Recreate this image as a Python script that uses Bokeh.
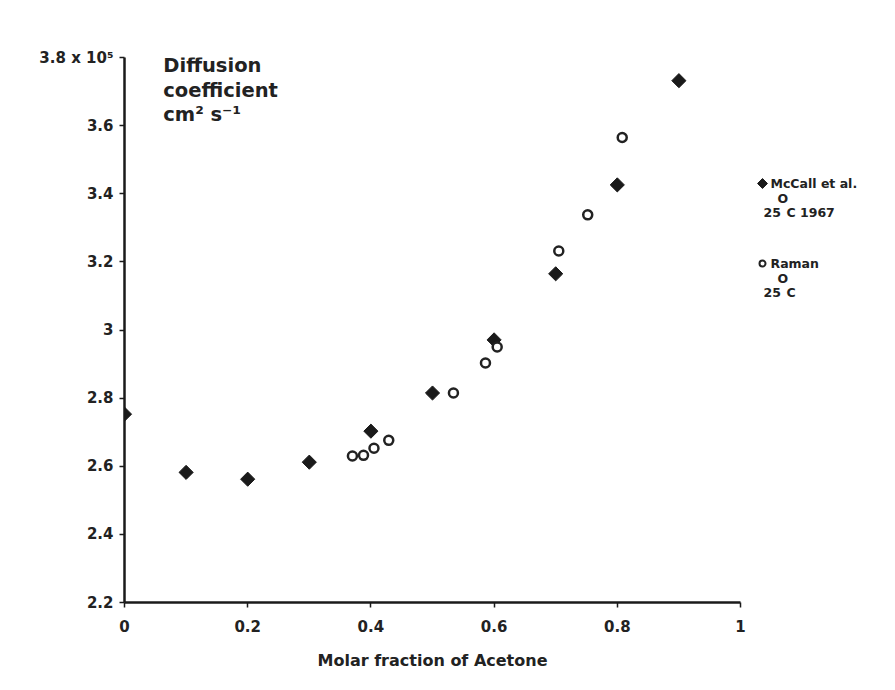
import math
from bokeh.plotting import figure
from bokeh.models import Range1d, Label, FixedTicker
from bokeh.layouts import row
from bokeh.core.properties import value
from bokeh.embed import file_html
from bokeh.resources import INLINE

# McCall et al. 25 °C 1967 (filled diamonds)
mccall_x = [0.0, 0.1, 0.2, 0.3, 0.4, 0.5, 0.6, 0.7, 0.8, 0.9]
mccall_y = [2.753, 2.582, 2.562, 2.612, 2.703, 2.815, 2.971, 3.165, 3.426, 3.732]

# Raman 25 °C (open circles)
raman_x = [0.370, 0.388, 0.405, 0.429, 0.534, 0.586, 0.605, 0.705, 0.752, 0.808]
raman_y = [2.630, 2.632, 2.653, 2.676, 2.815, 2.903, 2.950, 3.232, 3.338, 3.565]

x_ticks = [0, 0.2, 0.4, 0.6, 0.8, 1]
x_tick_labels = ["0", "0.2", "0.4", "0.6", "0.8", "1"]
y_ticks = [2.2, 2.4, 2.6, 2.8, 3.0, 3.2, 3.4, 3.6, 3.8]
y_tick_labels = ["2.2", "2.4", "2.6", "2.8", "3", "3.2", "3.4", "3.6", "3.8 x 10\u2075"]

legend_names = ["McCall et al.", "Raman"]
legend_conditions = ["C 1967", "C"]

FONT = "DejaVu Sans"
INK = "#1a1a1a"
TXT = "#222222"

p = figure(width=750, height=690, output_backend="svg", toolbar_location=None,
           x_range=Range1d(0, 1), y_range=Range1d(2.2, 3.8),
           min_border_left=124, min_border_right=10, min_border_top=57,
           min_border_bottom=88)
p.outline_line_color = None
p.xgrid.visible = False
p.ygrid.visible = False
p.background_fill_color = "white"
p.border_fill_color = "white"

for ax in (p.xaxis, p.yaxis):
    ax.axis_line_width = 2.5
    ax.axis_line_color = INK
    ax.major_tick_line_width = 1.5
    ax.major_tick_line_color = INK
    ax.major_tick_in = 0
    ax.major_tick_out = 5
    ax.minor_tick_line_color = None
    ax.major_label_text_font = FONT
    ax.major_label_text_font_style = "bold"
    ax.major_label_text_font_size = "15px"
    ax.major_label_text_color = TXT

p.xaxis.ticker = FixedTicker(ticks=x_ticks)
p.xaxis.major_label_overrides = {t: l for t, l in zip(x_ticks, x_tick_labels)}
p.xaxis.major_label_standoff = 12
p.xaxis.axis_label = "Molar fraction of Acetone"
p.xaxis.axis_label_text_font = FONT
p.xaxis.axis_label_text_font_style = "bold"
p.xaxis.axis_label_text_font_size = "16px"
p.xaxis.axis_label_text_color = TXT
p.xaxis.axis_label_standoff = 16

p.yaxis.ticker = FixedTicker(ticks=y_ticks)
p.yaxis.major_label_overrides = {t: l for t, l in zip(y_ticks, y_tick_labels)}
p.yaxis.major_label_standoff = 6

p.scatter(mccall_x, mccall_y, marker="square", size=10, angle=math.pi / 4,
          fill_color=INK, line_color=INK)
p.scatter(raman_x, raman_y, marker="circle", size=9,
          fill_color="white", line_color=TXT, line_width=2.5)

title_lines = ["Diffusion", "coefficient", "cm\u00b2 s\u207b\u00b9"]
for i, t in enumerate(title_lines):
    p.add_layout(Label(x=0.063, y=3.81 - i * 0.072, text=t, text_baseline="top",
                       text_font=FONT, text_font_style="bold",
                       text_font_size="19.5px", text_color=TXT))

# legend panel (separate figure to the right; frame aligned with main frame,
# coordinates chosen so that units equal page pixels)
lg = figure(width=145, height=690, output_backend="svg", toolbar_location=None,
            x_range=Range1d(750, 895), y_range=Range1d(602, 57),
            min_border_left=0, min_border_right=0, min_border_top=57,
            min_border_bottom=88, outline_line_color=None)
lg.axis.visible = False
lg.grid.visible = False
lg.background_fill_color = "white"
lg.border_fill_color = "white"

name_y = [183, 263]
lg.scatter([762], [name_y[0]], marker="square", size=7, angle=math.pi / 4,
           fill_color=INK, line_color=INK)
lg.scatter([762], [name_y[1]], marker="circle", size=6,
           fill_color="white", line_color=TXT, line_width=2)

def txt(xs, ys, texts):
    lg.text(xs, ys, text=texts, text_baseline="middle", text_align="left",
            text_font=value(FONT), text_font_style="bold",
            text_font_size="12.5px", text_color=TXT)

txt([770, 770], name_y, legend_names)
txt([777, 777], [y + 15 for y in name_y], ["O", "O"])
txt([763, 763], [y + 29 for y in name_y], ["25", "25"])
txt([786, 786], [y + 29 for y in name_y], legend_conditions)

layout = row(p, lg, spacing=0)
open("out.html", "w").write(file_html(layout, INLINE))
